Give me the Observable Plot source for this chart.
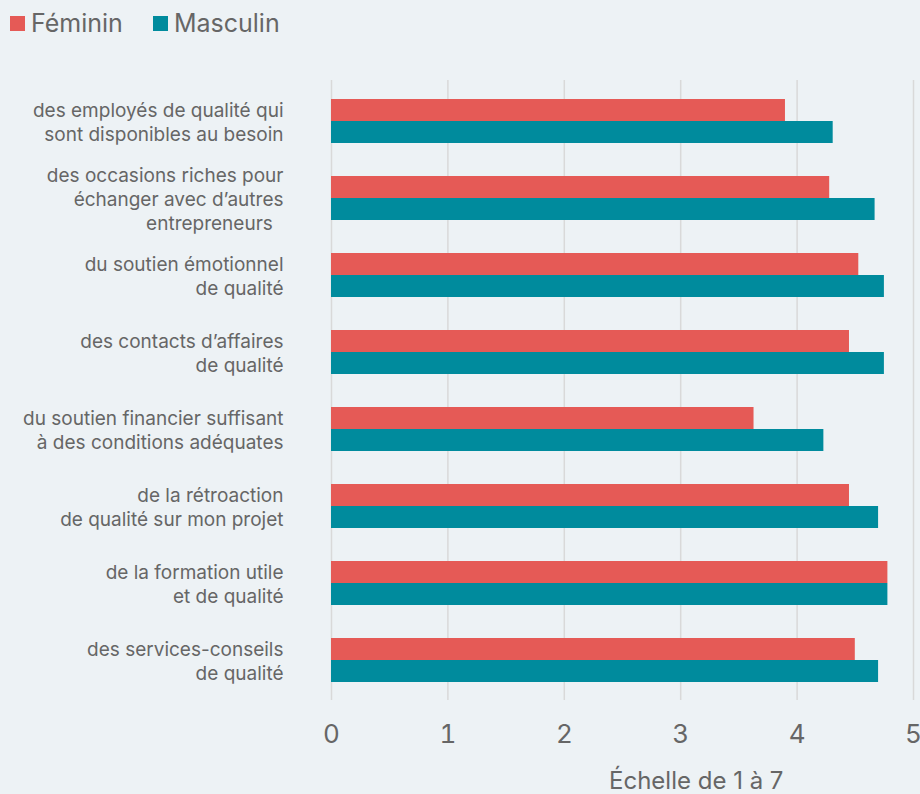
<!DOCTYPE html>
<html><head><meta charset="utf-8">
<script src="https://cdn.jsdelivr.net/npm/d3@7"></script>
<script src="https://cdn.jsdelivr.net/npm/@observablehq/plot@0.6"></script>
<style>
html,body{margin:0;padding:0;background:#edf2f5;width:920px;height:794px;overflow:hidden;font-family:Inter,"Noto Sans",sans-serif;color:#666;}
#wrap{position:relative;width:920px;height:794px;}
#legend{position:absolute;top:8px;left:10px;display:flex;align-items:center;font-size:25px;line-height:30px;color:#666;}
#legend .sw{display:inline-block;width:15px;height:15px;margin-right:6px;}
#legend .it{display:flex;align-items:center;margin-right:30px;}
#chart{position:absolute;top:48px;left:0;}
#caption{position:absolute;top:766px;left:609px;font-size:24px;line-height:30px;color:#666;white-space:nowrap;}
</style></head>
<body><div id="wrap">
<div id="legend"></div>
<div id="chart"></div>
<div id="caption"></div>
</div>
<script>
const categories = [
  "des employés de qualité qui\nsont disponibles au besoin",
  "des occasions riches pour\néchanger avec d’autres\nentrepreneurs\u00a0\u00a0",
  "du soutien émotionnel\nde qualité",
  "des contacts d’affaires\nde qualité",
  "du soutien financier suffisant\nà des conditions adéquates",
  "de la rétroaction\nde qualité sur mon projet",
  "de la formation utile\net de qualité",
  "des services-conseils\nde qualité"
];
const series = ["Féminin", "Masculin"];
const colors = ["#e55a56", "#008b9d"];
const feminin = [3.90, 4.28, 4.53, 4.45, 3.63, 4.45, 4.78, 4.50];
const masculin = [4.31, 4.67, 4.75, 4.75, 4.23, 4.70, 4.78, 4.70];
const xTicks = [0, 1, 2, 3, 4, 5];
const axisLabel = "Échelle de 1 à 7";

const dataF = categories.map((c, i) => ({category: c, value: feminin[i], serie: series[0]}));
const dataM = categories.map((c, i) => ({category: c, value: masculin[i], serie: series[1]}));

// legend
const lg = document.getElementById("legend");
series.forEach((s, i) => {
  const it = document.createElement("span"); it.className = "it";
  const sw = document.createElement("span"); sw.className = "sw"; sw.style.background = colors[i];
  it.appendChild(sw); it.appendChild(document.createTextNode(s)); lg.appendChild(it);
});
document.getElementById("caption").textContent = axisLabel;

const chart = Plot.plot({
  width: 920,
  height: 712,
  marginTop: 32,
  marginBottom: 60,
  marginLeft: 331,
  marginRight: 7,
  style: {background: "transparent", color: "#666", fontFamily: "Inter, 'Noto Sans', sans-serif", overflow: "visible"},
  x: {domain: [0, 5], ticks: xTicks, label: null, tickSize: 0, tickPadding: 24, tickFormat: d3.format("d")},
  y: {domain: categories, paddingInner: 0.432, paddingOuter: 0.216, label: null, tickSize: 0, tickPadding: 48},
  marks: [
    Plot.gridX(xTicks, {stroke: "#d9d9d9", strokeOpacity: 1, strokeWidth: 1.5}),
    Plot.barX(dataF, {y: "category", x: "value", fill: colors[0], insetBottom: 22}),
    Plot.barX(dataM, {y: "category", x: "value", fill: colors[1], insetTop: 22}),
    Plot.axisX({ticks: xTicks, tickSize: 0, tickPadding: 24, fontSize: 26, label: null, fill: "#666", tickFormat: d3.format("d")}),
    Plot.axisY({tickSize: 0, tickPadding: 48, fontSize: 19, lineHeight: 1.26, label: null, fill: "#666"})
  ]
});
document.getElementById("chart").appendChild(chart);
</script>
</body></html>
